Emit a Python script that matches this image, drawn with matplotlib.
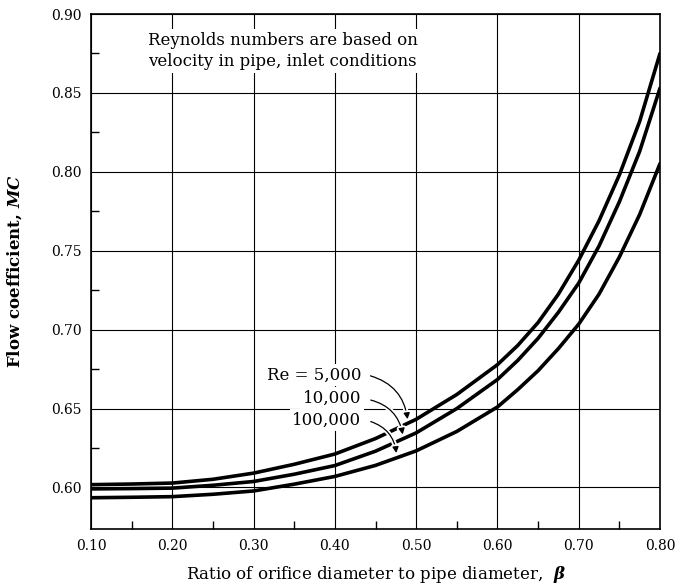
import matplotlib
matplotlib.use("Agg")
import matplotlib.pyplot as plt
import matplotlib.patheffects as pe
from matplotlib.ticker import FixedLocator

plt.rcParams['font.family'] = ['DejaVu Serif']
plt.rcParams['mathtext.fontset'] = 'custom'
plt.rcParams['mathtext.it'] = 'DejaVu Serif:italic:bold'
plt.rcParams['mathtext.rm'] = 'DejaVu Serif'

# ---- data ----
beta = [0.10, 0.15, 0.20, 0.25, 0.30, 0.35, 0.40, 0.45, 0.50, 0.55, 0.60,
        0.625, 0.65, 0.675, 0.70, 0.725, 0.75, 0.775, 0.80]
mc_re5000 = [0.6018, 0.6022, 0.6028, 0.6052, 0.6091, 0.6147, 0.6212, 0.6310,
             0.6432, 0.6589, 0.6778, 0.6900, 0.7045, 0.7225, 0.7440, 0.7690,
             0.7980, 0.8320, 0.8750]
mc_re10000 = [0.5991, 0.5993, 0.5996, 0.6014, 0.6038, 0.6084, 0.6139, 0.6230,
              0.6346, 0.6500, 0.6684, 0.6805, 0.6945, 0.7110, 0.7295, 0.7530,
              0.7810, 0.8130, 0.8530]
mc_re100000 = [0.5935, 0.5938, 0.5942, 0.5957, 0.5978, 0.6021, 0.6070, 0.6140,
               0.6232, 0.6355, 0.6510, 0.6620, 0.6740, 0.6880, 0.7035, 0.7225,
               0.7460, 0.7730, 0.8052]

series_labels = ["Re = 5,000", "10,000", "100,000"]
label_pos = [(0.4327, 0.6712), (0.4327, 0.6566), (0.4327, 0.6427)]
arrow_start = [(0.4405, 0.6712), (0.4409, 0.6558), (0.4409, 0.6423)]
arrow_end = [(0.4898, 0.6415), (0.4840, 0.6318), (0.4759, 0.6200)]

xticks = [0.10, 0.20, 0.30, 0.40, 0.50, 0.60, 0.70, 0.80]
yticks = [0.60, 0.65, 0.70, 0.75, 0.80, 0.85, 0.90]
xminor = [0.15, 0.25, 0.35, 0.45, 0.55, 0.65, 0.75]
yminor = [0.625, 0.675, 0.725, 0.775, 0.825, 0.875]

fig = plt.figure(figsize=(6.78, 5.87), dpi=100)
ax = fig.add_axes([91/678, 1 - 529/587, (660-91)/678, (529-14)/587])

for ys in (mc_re5000, mc_re10000, mc_re100000):
    ax.plot(beta, ys, color='black', lw=2.6, solid_capstyle='round',
            solid_joinstyle='round', zorder=3)

ax.set_xlim(0.10, 0.80)
ax.set_ylim(0.5737, 0.90)
ax.set_xticks(xticks)
ax.set_yticks(yticks)
ax.set_xticklabels([f"{v:.2f}" for v in xticks])
ax.set_yticklabels([f"{v:.2f}" for v in yticks])
ax.xaxis.set_minor_locator(FixedLocator(xminor))
ax.yaxis.set_minor_locator(FixedLocator(yminor))
ax.tick_params(which='major', length=0, labelsize=10, pad=7)
ax.tick_params(which='minor', direction='in', length=5.5, width=1.0)
ax.grid(True, which='major', color='black', lw=0.8, zorder=1)
for s in ax.spines.values():
    s.set_linewidth(1.2)

ax.text(0.336, 0.8765, "Reynolds numbers are based on\nvelocity in pipe, inlet conditions",
        ha='center', va='center', fontsize=12, linespacing=1.3, zorder=4,
        bbox=dict(facecolor='white', edgecolor='none', pad=2))

for lab, (tx, ty), st, en in zip(series_labels, label_pos, arrow_start, arrow_end):
    ax.text(tx, ty, lab, ha='right', va='center', fontsize=12, zorder=4,
            bbox=dict(facecolor='white', edgecolor='none', pad=1.8))
    ax.annotate("", xy=en, xytext=st, zorder=5,
                arrowprops=dict(arrowstyle='-|>', color='black', lw=0.9,
                                mutation_scale=9,
                                connectionstyle='arc3,rad=-0.35',
                                path_effects=[pe.withStroke(linewidth=3.5, foreground='white')]))

ax.set_xlabel(r"Ratio of orifice diameter to pipe diameter,  $\beta$", fontsize=12)
ax.set_ylabel(r"Flow coefficient, $MC$", fontsize=12, fontweight='bold')
ax.xaxis.set_label_coords(0.5, -0.068)
ax.yaxis.set_label_coords(-0.118, 0.5)

fig.savefig("out.png", dpi=100)
